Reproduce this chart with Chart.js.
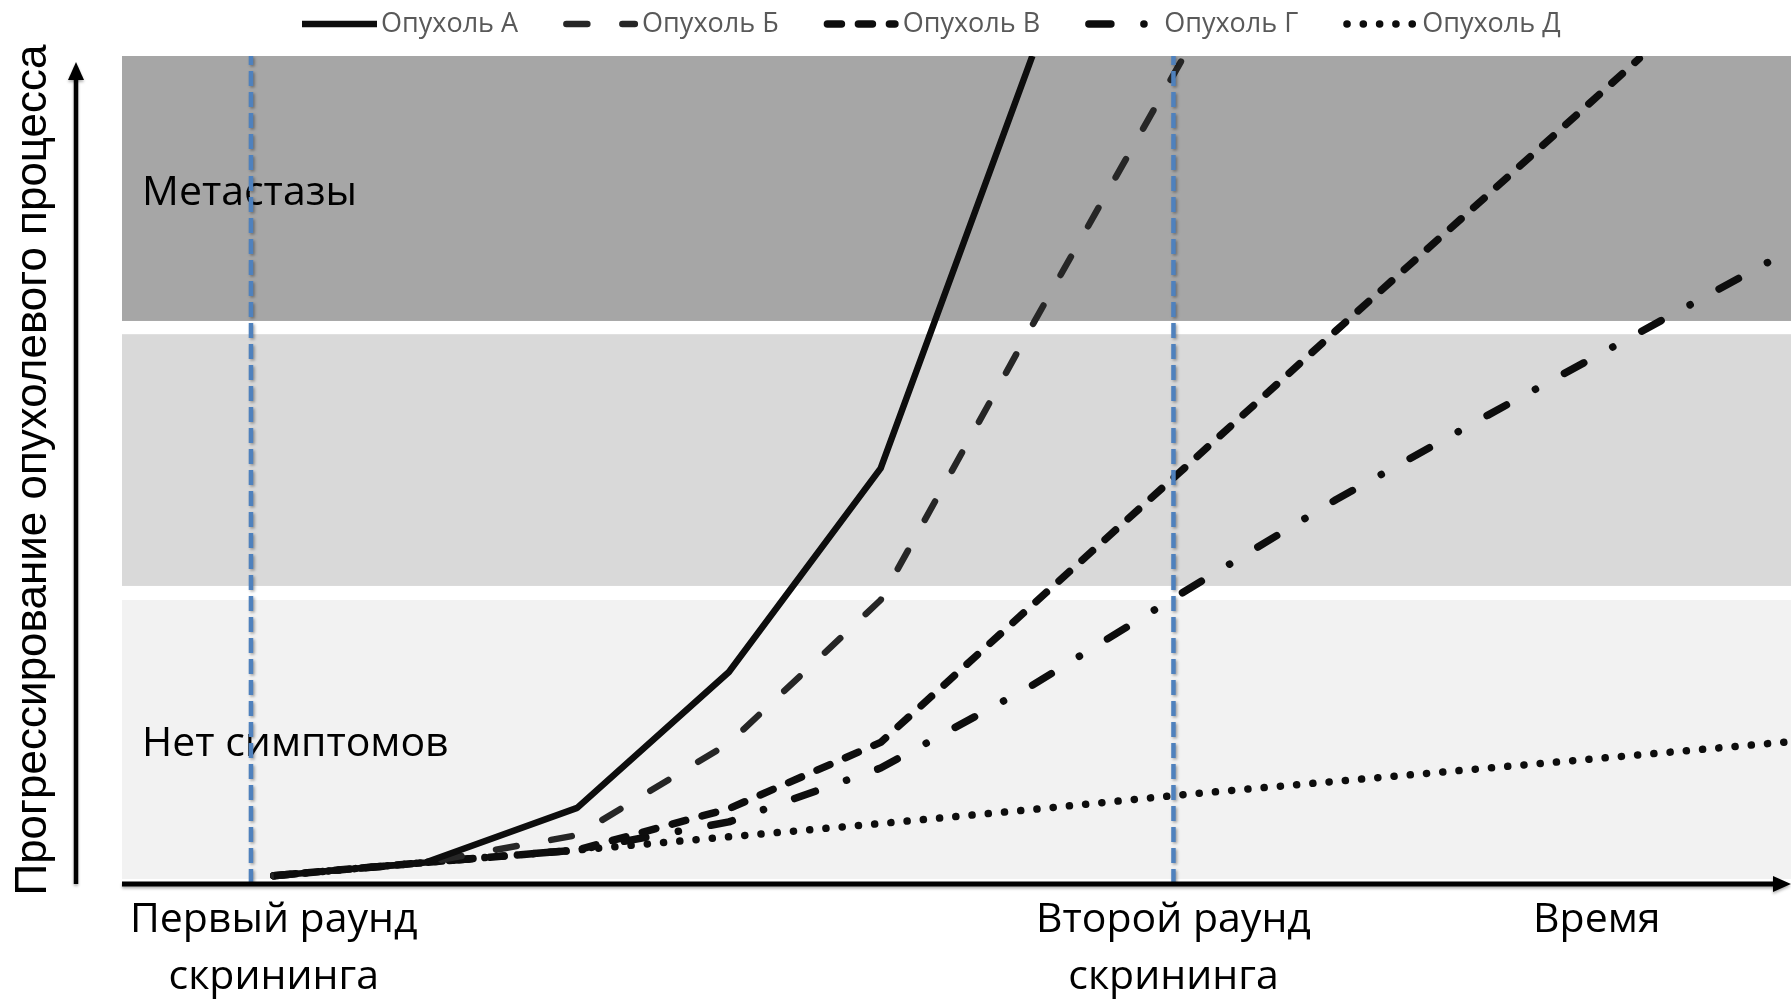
<!DOCTYPE html>
<html lang="ru">
<head>
<meta charset="utf-8">
<title>Прогрессирование опухолевого процесса</title>
<script src="https://cdn.jsdelivr.net/npm/chart.js@4.4.1/dist/chart.umd.min.js"></script>
<style>
    html, body { margin: 0; padding: 0; background: #fff; }
    #wrap { width: 1791px; height: 1000px; }
</style>
</head>
<body>
<div id="wrap"><canvas id="tumorChart" width="1791" height="1000"></canvas></div>
<script>
// time steps of the curves
const timePoints = [0, 1, 2, 3, 4, 5, 6, 7, 8, 9, 10];

// progression of each tumour (0 = time axis, 100 = top of the chart)
const tumorA = [1.0, 2.6, 9.2, 25.6, 50.2, 100];
const tumorB = [1.0, 2.6, 5.9, 17.0, 34.3, 67.5, 100];
const tumorV = [1.0, 2.6, 4.1, 9.1, 17.1, 33.7, 50.2, 66.8, 83.2, 99.7];
const tumorG = [1.0, 2.6, 4.1, 7.5, 14.0, 24.0, 35.3, 46.4, 56.6, 66.6, 76.6];
const tumorD = [1.0, 2.6, 4.1, 5.7, 7.3, 9.0, 10.8, 12.4, 14.0, 15.6, 17.2];

const seriesNames = ['Опухоль А', 'Опухоль Б', 'Опухоль В', 'Опухоль Г', 'Опухоль Д'];

// screening rounds (blue vertical markers)
const screeningRounds = [-0.15, 5.93];

// background zones [from, to] with captions
const zoneRanges = [[68.0, 100], [36.0, 66.4], [0.6, 34.3]];
const zoneNames = ['Метастазы', '', 'Нет симптомов'];
const zoneColors = ['#a6a6a6', '#d9d9d9', '#f2f2f2'];

// x axis captions
const tickValues = [0, 5.93, 8.72];
const tickLabels = [['Первый раунд', 'скрининга'], ['Второй раунд', 'скрининга'], 'Время'];

function toPoints(values) {
    return values.map(function (v, i) {
        return { x: timePoints[i], y: v };
    });
}

//Zones behind the curves
const zonesPlugin = {
    id: 'zones',
    beforeDatasetsDraw(chart) {
        const ctx = chart.ctx;
        const area = chart.chartArea;
        const y = chart.scales.y;
        ctx.save();
        zoneRanges.forEach(function (r, i) {
            const top = y.getPixelForValue(r[1]);
            const bottom = y.getPixelForValue(r[0]);
            ctx.fillStyle = zoneColors[i];
            ctx.fillRect(area.left, top, area.right - area.left, bottom - top);
            if (zoneNames[i]) {
                ctx.fillStyle = '#000';
                ctx.font = '41px "Open Sans"';
                ctx.textBaseline = 'middle';
                ctx.fillText(zoneNames[i], area.left + 20, (top + bottom) / 2 + 5);
            }
        });
        ctx.restore();
    }
};

//Shadow under the blue screening lines
const shadowPlugin = {
    id: 'shadow',
    beforeDatasetDraw(chart, args) {
        const ctx = chart.ctx;
        ctx.save();
        if (args.meta._dataset.marker) {
            ctx.shadowColor = 'rgba(0,0,0,0.35)';
            ctx.shadowBlur = 3;
            ctx.shadowOffsetX = 1.5;
            ctx.shadowOffsetY = 1.5;
        }
    },
    afterDatasetDraw(chart) {
        chart.ctx.restore();
    }
};

//Axis arrows
const arrowsPlugin = {
    id: 'arrows',
    afterDatasetsDraw(chart) {
        const ctx = chart.ctx;
        const area = chart.chartArea;
        const yAxisX = area.left - 46;
        ctx.save();
        ctx.shadowColor = 'rgba(0,0,0,0.3)';
        ctx.shadowBlur = 3;
        ctx.shadowOffsetY = 2;
        ctx.strokeStyle = '#000';
        ctx.fillStyle = '#000';
        ctx.lineWidth = 5;
        ctx.beginPath();
        ctx.moveTo(area.left, area.bottom);
        ctx.lineTo(chart.width - 14, area.bottom);
        ctx.stroke();
        ctx.beginPath();
        ctx.moveTo(chart.width, area.bottom);
        ctx.lineTo(chart.width - 18, area.bottom - 8);
        ctx.lineTo(chart.width - 18, area.bottom + 8);
        ctx.closePath();
        ctx.fill();
        ctx.lineWidth = 4.5;
        ctx.beginPath();
        ctx.moveTo(yAxisX, area.bottom);
        ctx.lineTo(yAxisX, area.top + 18);
        ctx.stroke();
        ctx.beginPath();
        ctx.moveTo(yAxisX, area.top + 6);
        ctx.lineTo(yAxisX - 8, area.top + 24);
        ctx.lineTo(yAxisX + 8, area.top + 24);
        ctx.closePath();
        ctx.fill();
        ctx.restore();
    }
};

//Legend at the top
const legendPlugin = {
    id: 'lineLegend',
    afterDraw(chart) {
        const ctx = chart.ctx;
        let x = 302;
        const y = 24;
        ctx.save();
        ctx.font = '27px "Open Sans"';
        ctx.textBaseline = 'middle';
        chart.data.datasets.filter(function (d) { return !d.marker; }).forEach(function (ds) {
            const half = ds.borderCapStyle === 'round' ? ds.borderWidth / 2 : 0;
            ctx.strokeStyle = ds.borderColor;
            ctx.lineWidth = ds.borderWidth;
            ctx.lineCap = ds.borderCapStyle || 'butt';
            ctx.setLineDash(ds.borderDash || []);
            ctx.beginPath();
            ctx.moveTo(x + half, y);
            ctx.lineTo(x + 75 - half, y);
            ctx.stroke();
            ctx.setLineDash([]);
            ctx.fillStyle = '#595959';
            ctx.fillText(ds.label, x + 79, y);
            x += 79 + ctx.measureText(ds.label).width + 45;
        });
        ctx.restore();
    }
};

function createChart() {
    const datasets = [
        { label: seriesNames[0], data: toPoints(tumorA), borderColor: '#0d0d0d', borderWidth: 6.5, borderCapStyle: 'butt', borderDash: [] },
        { label: seriesNames[1], data: toPoints(tumorB), borderColor: '#262626', borderWidth: 6.5, borderCapStyle: 'round', borderDash: [21, 35] },
        { label: seriesNames[2], data: toPoints(tumorV), borderColor: '#0d0d0d', borderWidth: 7.5, borderCapStyle: 'round', borderDash: [14, 17] },
        { label: seriesNames[3], data: toPoints(tumorG), borderColor: '#0d0d0d', borderWidth: 7.5, borderCapStyle: 'round', borderDash: [22, 33, 0.1, 33] },
        { label: seriesNames[4], data: toPoints(tumorD), borderColor: '#0d0d0d', borderWidth: 7.5, borderCapStyle: 'round', borderDash: [0.1, 16.2] }
    ];
    screeningRounds.forEach(function (s) {
        datasets.push({
            label: '', marker: true, order: -1,
            data: [{ x: s, y: 0 }, { x: s, y: 100 }],
            borderColor: '#4f81bd', borderWidth: 4.5, borderDash: [15, 6], borderCapStyle: 'butt'
        });
    });
    datasets.forEach(function (d) {
        d.pointRadius = 0;
        d.tension = 0;
        d.fill = false;
        d.borderJoinStyle = 'round';
    });

    new Chart(document.getElementById('tumorChart'), {
        type: 'line',
        data: { datasets: datasets },
        options: {
            responsive: false,
            animation: false,
            devicePixelRatio: 1,
            layout: { padding: { left: 0, right: 0, top: 56, bottom: 0 } },
            plugins: {
                legend: { display: false },
                tooltip: { enabled: false }
            },
            scales: {
                x: {
                    type: 'linear',
                    min: -1,
                    max: 10,
                    grid: { display: false, drawTicks: false },
                    border: { display: false },
                    afterBuildTicks: function (scale) {
                        scale.ticks = tickValues.map(function (v) { return { value: v }; });
                    },
                    afterFit: function (scale) { scale.height = 116; },
                    ticks: {
                        autoSkip: false,
                        maxRotation: 0,
                        padding: 8,
                        color: '#000',
                        font: { family: 'Open Sans', size: 41, lineHeight: 1.38 },
                        callback: function (value, index) { return tickLabels[index]; }
                    }
                },
                y: {
                    type: 'linear',
                    min: 0,
                    max: 100,
                    grid: { display: false, drawTicks: false },
                    border: { display: false },
                    ticks: { display: false },
                    afterFit: function (scale) { scale.width = 122; },
                    title: {
                        display: true,
                        text: 'Прогрессирование опухолевого процесса',
                        color: '#000',
                        font: { family: 'Liberation Sans', size: 44, lineHeight: 1.2 },
                        padding: { top: 7, bottom: 0 }
                    }
                }
            }
        },
        plugins: [zonesPlugin, shadowPlugin, arrowsPlugin, legendPlugin]
    });
}

createChart();
</script>
</body>
</html>
